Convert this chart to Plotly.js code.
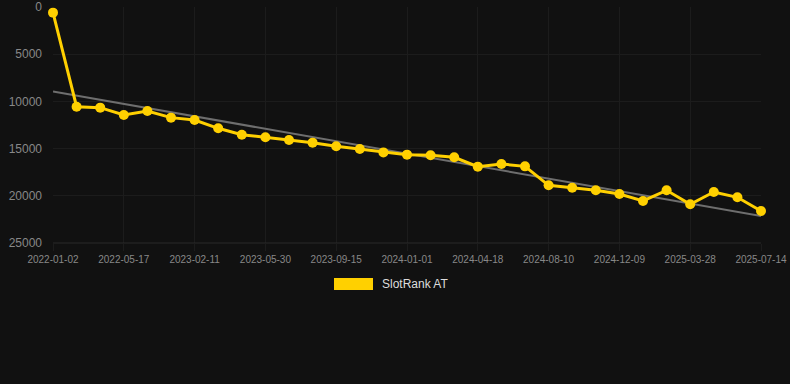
<!DOCTYPE html>
<html>
<head>
<meta charset="utf-8">
<script src="https://cdn.plot.ly/plotly-3.0.1.min.js"></script>
<style>html,body{margin:0;padding:0;background:#111111;}#chart{width:790px;height:384px;}</style>
</head>
<body>
<div id="chart"></div>
<script>
// Category dates (labelled every third one; in-between dates estimated)
const dates = [
  "2022-01-02","2022-02-16","2022-04-01","2022-05-17","2022-08-16","2022-11-14",
  "2023-02-11","2023-03-20","2023-04-24","2023-05-30","2023-07-05","2023-08-10",
  "2023-09-15","2023-10-20","2023-11-25","2024-01-01","2024-02-05","2024-03-13",
  "2024-04-18","2024-05-26","2024-07-03","2024-08-10","2024-09-19","2024-10-29",
  "2024-12-09","2025-01-14","2025-02-19","2025-03-28","2025-05-04","2025-06-08",
  "2025-07-14"
];
const rankValues = [
  600, 10560, 10660, 11440, 11020, 11720, 11970, 12850, 13530, 13800,
  14090, 14370, 14760, 15040, 15400, 15640, 15710, 15920, 16910, 16630,
  16880, 18890, 19140, 19420, 19810, 20550, 19420, 20900, 19600, 20160,
  21610
];
const tickLabels = [
  "2022-01-02","2022-05-17","2023-02-11","2023-05-30","2023-09-15","2024-01-01",
  "2024-04-18","2024-08-10","2024-12-09","2025-03-28","2025-07-14"
];
const trendDates = ["2022-01-02","2025-07-14"];
const trendValues = [8940, 22140];
const seriesName = "SlotRank AT";

const yellow = "#ffd000";
const traces = [
  {
    x: trendDates, y: trendValues, type: "scatter", mode: "lines",
    line: {color: "#6e6e6e", width: 2}, hoverinfo: "skip", showlegend: false
  },
  {
    x: dates, y: rankValues, type: "scatter", mode: "lines+markers",
    name: seriesName, line: {color: yellow, width: 3},
    marker: {color: yellow, size: 10}, cliponaxis: false, showlegend: false
  }
];
const layout = {
  width: 790, height: 384,
  paper_bgcolor: "#111111", plot_bgcolor: "#111111",
  margin: {l: 53, r: 29, t: 7, b: 141},
  font: {family: "Liberation Sans, Arial, sans-serif", color: "#888888"},
  showlegend: false,
  xaxis: {
    type: "category", categoryorder: "array", categoryarray: dates,
    range: [0, dates.length - 1],
    tickmode: "array", tickvals: tickLabels, ticktext: tickLabels,
    tickangle: 0, tickfont: {size: 10, color: "#888888"},
    showgrid: true, gridcolor: "#1c1c1c", gridwidth: 1,
    zeroline: false, showline: false,
    ticks: "outside", ticklen: 7, tickcolor: "#1c1c1c"
  },
  yaxis: {
    range: [25000, 0], tickvals: [0, 5000, 10000, 15000, 20000, 25000],
    tickformat: "d",
    tickfont: {size: 12, color: "#888888"},
    showgrid: true, gridcolor: "#1c1c1c", gridwidth: 1,
    zeroline: false, showline: false, ticks: "", ticklabelstandoff: 10
  },
  shapes: [
    {type: "line", xref: "paper", yref: "paper", x0: 0, x1: 1, y0: 0, y1: 0,
     line: {color: "#2a2a2a", width: 1}},
    {type: "rect", xref: "paper", yref: "paper", x0: 281/708, x1: 320/708,
     y0: -35/236, y1: -47/236, fillcolor: yellow, line: {width: 0}}
  ],
  annotations: [
    {xref: "paper", yref: "paper", x: 327/708, y: -41/236, xanchor: "left", yanchor: "middle",
     text: seriesName, showarrow: false, font: {size: 12, color: "#dddddd"}}
  ]
};
Plotly.newPlot("chart", traces, layout, {displayModeBar: false, staticPlot: true});
</script>
</body>
</html>
